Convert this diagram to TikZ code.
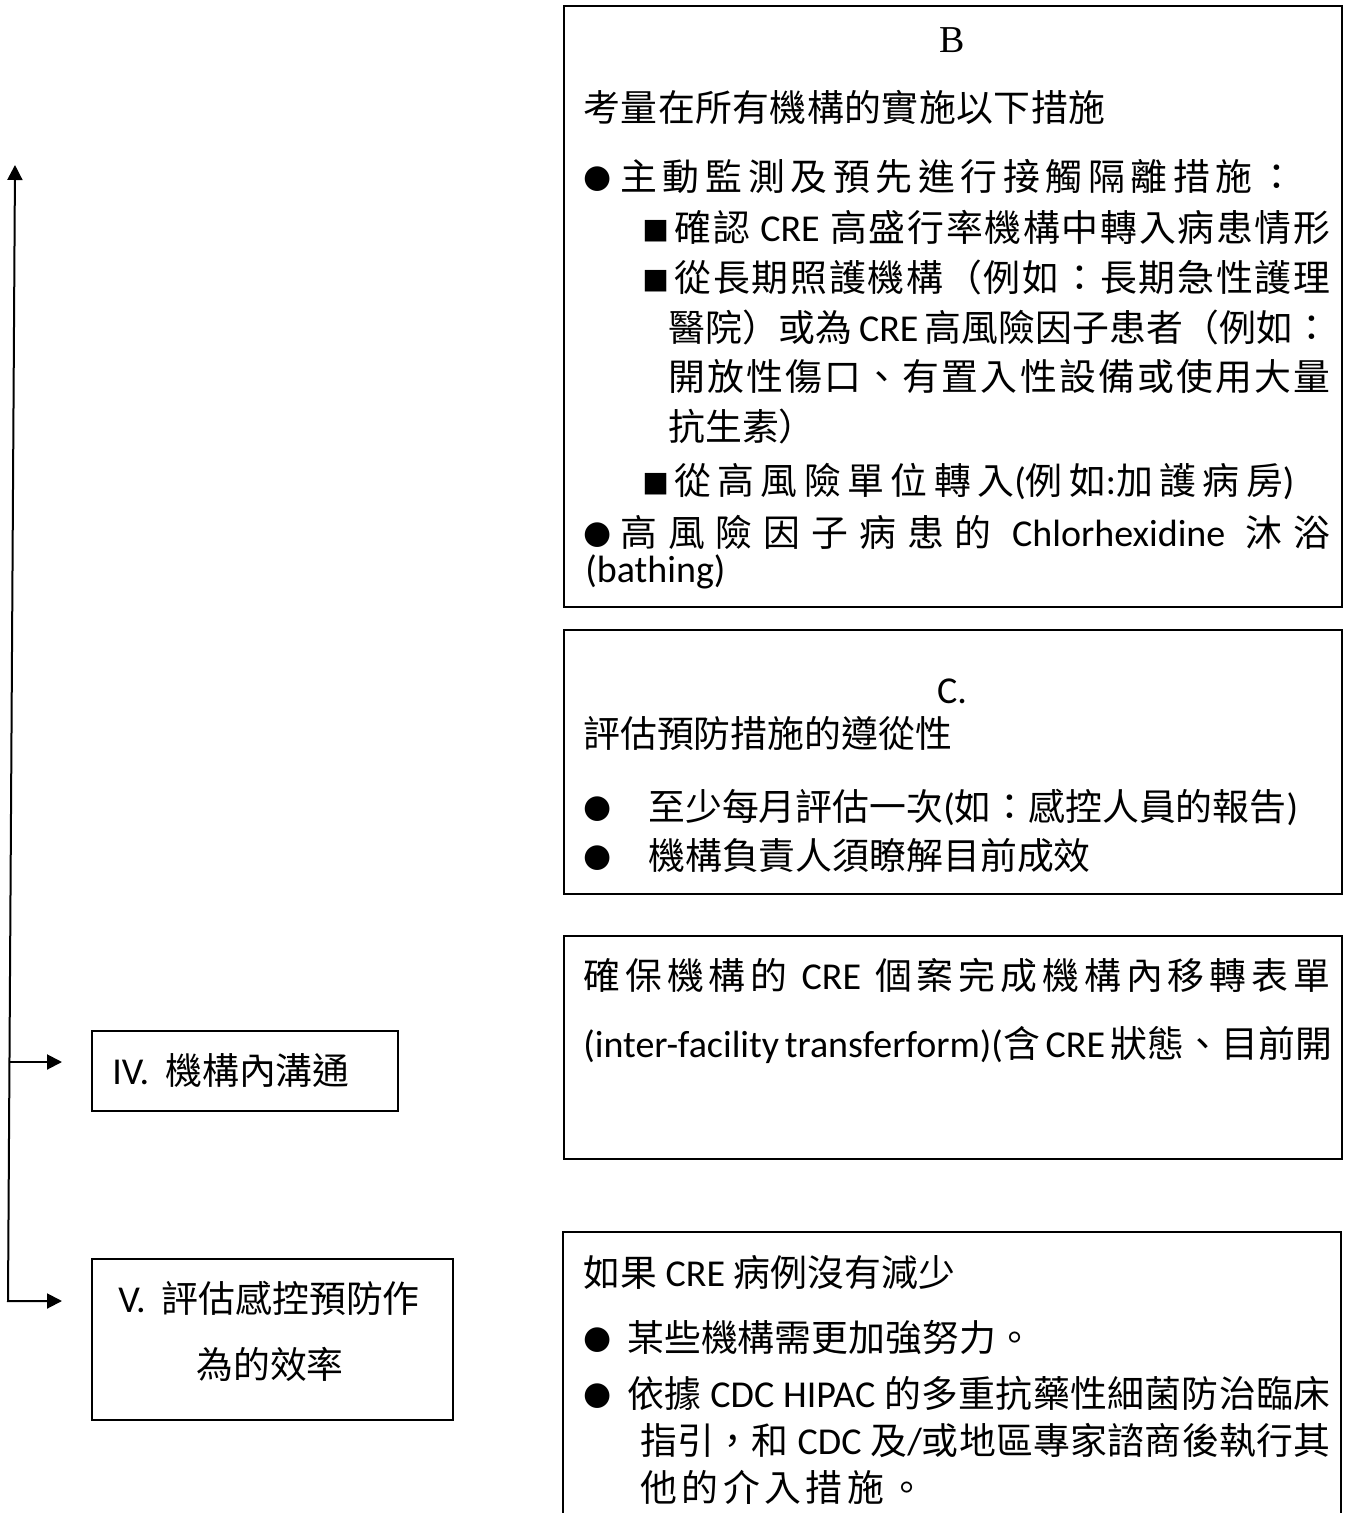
\documentclass[tikz,border=0pt]{standalone}
\usepackage{fontspec}
\usetikzlibrary{arrows.meta}
\setmainfont{Carlito}
\newfontfamily\zhfont{Noto Sans CJK TC}[Scale=0.97]
\newfontfamily\romfont{Liberation Serif}
\newfontfamily\bulfont{DejaVu Sans}[Scale=0.85]
\newfontfamily\sqfont{DejaVu Sans}[Scale=0.74]
\newcommand\zh[1]{{\zhfont #1}}
\newcommand\bul{\raisebox{1.5pt}{\bulfont ●}}
\newcommand\sqr{\raisebox{1.5pt}{\sqfont ■}}
% stretchable glue between CJK characters, so justified lines can spread
\XeTeXinterchartokenstate=1
\newXeTeXintercharclass\cjkcls
\count255="4E00
\loop\XeTeXcharclass\count255=\cjkcls\ifnum\count255<"9FFF\advance\count255 by 1\repeat
\count255="3000
\loop\XeTeXcharclass\count255=\cjkcls\ifnum\count255<"303F\advance\count255 by 1\repeat
\count255="FF00
\loop\XeTeXcharclass\count255=\cjkcls\ifnum\count255<"FF60\advance\count255 by 1\repeat
\XeTeXinterchartoks\cjkcls\cjkcls={\hskip0pt plus 2pt\relax}
\newcommand\spread[2]{\makebox[#1][s]{#2}}
\begin{document}
\begin{tikzpicture}[x=0.5pt,y=-0.5pt,
  frame/.style={draw, line width=1pt, inner sep=0pt, anchor=north west},
  txt/.style={anchor=base west, inner sep=0pt, font=\fontsize{19pt}{23pt}\selectfont},
  ctxt/.style={anchor=base, inner sep=0pt, font=\fontsize{19pt}{23pt}\selectfont},
  arr/.style={{Triangle[length=7.5pt,width=7.5pt]}-{Triangle[length=7.5pt,width=7.5pt]}, line width=1pt},
  arrone/.style={-{Triangle[length=7.5pt,width=7.5pt]}, line width=1pt}]
\useasboundingbox (0,0) rectangle (1354,1513);

% ---- box B ----
\node[frame, minimum width=389pt, minimum height=300.5pt] (boxB) at (563,5) {};
\node[anchor=center, inner sep=0pt, font=\romfont\fontsize{19pt}{19pt}\selectfont] (bt) at (952,40) {B};
\node[txt] (b1) at (583,122) {\spread{261pt}{\zh{考量在所有機構的實施以下措施}}};
\node[txt] (b2d) at (583,191) {\bul};
\node[txt] (b2) at (620,191) {\spread{337.5pt}{\zh{主動監測及預先進行接觸隔離措施：}}};
\node[txt] (b3d) at (642,242) {\sqr};
\node[txt] (b3) at (674,242) {\spread{328pt}{\zh{確認} CRE \zh{高盛行率機構中轉入病患情形}}};
\node[txt] (b4d) at (642,292) {\sqr};
\node[txt] (b4) at (674,292) {\spread{328pt}{\zh{從長期照護機構（例如：長期急性護理}}};
\node[txt] (b5) at (668,342) {\spread{331pt}{\zh{醫院）或為} CRE \zh{高風險因子患者（例如：}}};
\node[txt] (b6) at (668,391) {\spread{331pt}{\zh{開放性傷口、有置入性設備或使用大量}}};
\node[txt] (b7) at (668,440) {\zh{抗生素）}};
\node[txt] (b8d) at (642,494) {\sqr};
\node[txt] (b8) at (674,494) {\spread{310pt}{\zh{從高風險單位轉入}(\zh{例如}:\zh{加護病房})}};
\node[txt] (b9d) at (583,546) {\bul};
\node[txt] (b9) at (620,546) {\spread{355pt}{\zh{高風險因子病患的} Chlorhexidine \zh{沐浴}}};
\node[txt] (b10) at (585,582) {(bathing)};

% ---- box C ----
\node[frame, minimum width=389pt, minimum height=132pt] (boxC) at (563,629) {};
\node[ctxt] (ct) at (952,703) {C.};
\node[txt] (c1) at (583,747) {\zh{評估預防措施的遵從性}};
\node[txt] (c2d) at (583,820) {\bul};
\node[txt] (c2) at (648,820) {\zh{至少每月評估一次}(\zh{如：感控人員的報告})};
\node[txt] (c3d) at (583,869) {\bul};
\node[txt] (c3) at (648,869) {\zh{機構負責人須瞭解目前成效}};

% ---- transfer form box ----
\node[frame, minimum width=389pt, minimum height=111.5pt] (boxM) at (563,935) {};
\node[txt] (m1) at (583,989) {\spread{373.5pt}{\zh{確保機構的} CRE \zh{個案完成機構內移轉表單}}};
\node[txt] (m2) at (583,1057) {\spread{373.5pt}{(inter-facility transferform)(\zh{含} CRE \zh{狀態、目前開}}};

% ---- evaluation box (runs past the lower edge) ----
\draw[line width=1pt] (563,1513) |- (1341,1232) -- (1341,1513);
\node[txt] (d1) at (583,1286) {\zh{如果} CRE \zh{病例沒有減少}};
\node[txt] (d2d) at (583,1351) {\bul};
\node[txt] (d2) at (627,1351) {\zh{某些機構需更加強努力。}};
\node[txt] (d3d) at (583,1407) {\bul};
\node[txt] (d3) at (627,1407) {\spread{351.5pt}{\zh{依據} CDC HIPAC \zh{的多重抗藥性細菌防治臨床}}};
\node[txt] (d4) at (640,1454) {\spread{345pt}{\zh{指引，和} CDC \zh{及}/\zh{或地區專家諮商後執行其}}};
\node[txt] (d5) at (640,1501) {\spread{142.5pt}{\zh{他的介入措施。}}};

% ---- left-hand steps ----
\node[frame, minimum width=153pt, minimum height=40pt] (boxIV) at (91,1030) {};
\node[txt] (iv) at (112,1084) {IV.\hspace{8pt}\zh{機構內溝通}};
\node[frame, minimum width=180.5pt, minimum height=80.5pt] (boxV) at (91,1258) {};
\node[txt] (v1) at (118,1312) {V.\hspace{8pt}\zh{評估感控預防作}};
\node[ctxt] (v2) at (270,1378) {\zh{為的效率}};

% ---- connectors ----
\coordinate (top) at (15,165);
\coordinate (j4) at (9,1062);
\coordinate (j5) at (8,1301);
\coordinate (e4) at (62,1062);
\coordinate (e5) at (62,1301);
\draw[arr] (top) -- (j5) -- (e5);
\draw[arrone] (j4) -- (e4);
\end{tikzpicture}
\end{document}
